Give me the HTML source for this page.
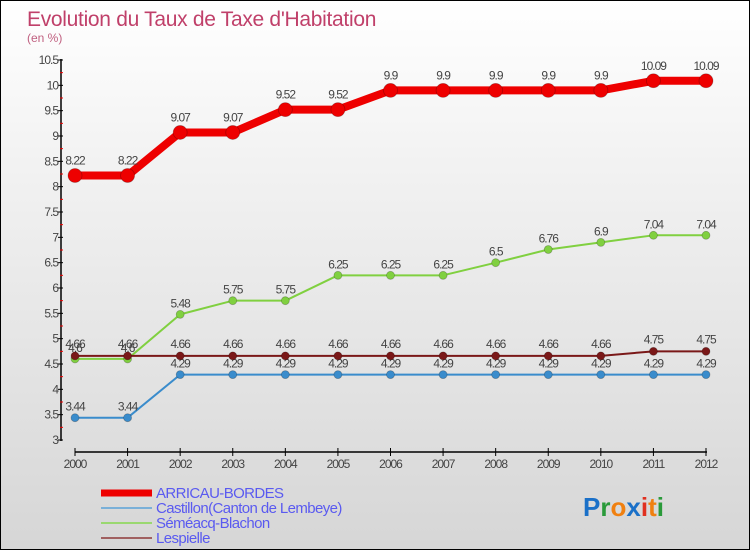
<!DOCTYPE html>
<html><head><meta charset="utf-8"><style>
body{margin:0}
#wrap{position:relative;width:748px;height:548px;border:1px solid #000;background:linear-gradient(#fff,#f2f2f2 30%,#d6d6d6);overflow:hidden;font-family:"Liberation Sans",sans-serif}
</style></head><body>
<div id="wrap">
<svg id="svg" width="748" height="548"></svg>
</div>
<script>
const years=["2000","2001","2002","2003","2004","2005","2006","2007","2008","2009","2010","2011","2012"];
const arricau=[8.22,8.22,9.07,9.07,9.52,9.52,9.9,9.9,9.9,9.9,9.9,10.09,10.09];
const castillon=[3.44,3.44,4.29,4.29,4.29,4.29,4.29,4.29,4.29,4.29,4.29,4.29,4.29];
const semeacq=[4.6,4.6,5.48,5.75,5.75,6.25,6.25,6.25,6.5,6.76,6.9,7.04,7.04];
const lespielle=[4.66,4.66,4.66,4.66,4.66,4.66,4.66,4.66,4.66,4.66,4.66,4.75,4.75];
const yTicks=["3","3.5","4","4.5","5","5.5","6","6.5","7","7.5","8","8.5","9","9.5","10","10.5"];
const NS="http://www.w3.org/2000/svg";
const svg=document.getElementById('svg');
const X=i=>74+i*(631/12);
const Y=v=>439-(v-3)*(380/7.5);
function el(t,a,txt){const e=document.createElementNS(NS,t);for(const k in a)e.setAttribute(k,a[k]);if(txt!==undefined)e.textContent=txt;svg.appendChild(e);return e;}
let e;
e=el('text',{x:26,y:25,'font-size':21,fill:'#c0406a','letter-spacing':'-0.3'},"Evolution du Taux de Taxe d'Habitation");


e=el('text',{x:26,y:41,'font-size':12,fill:'#c06080'},"(en %)");


e=el('line',{x1:60,y1:58,x2:60,y2:440,stroke:'#000','stroke-width':1.5});


e=el('line',{x1:74,y1:451,x2:706,y2:451,stroke:'#000','stroke-width':1.5});


yTicks.forEach((t,i)=>{const v=parseFloat(t),y=Y(v);
 e=el('line',{x1:57,y1:y,x2:62,y2:y,stroke:'#000'});
 
 
 e=el('text',{x:57,y:y+4,'font-size':12,fill:'#444','text-anchor':'end','letter-spacing':'-1'},t);
 
 
 if(i<yTicks.length-1){e=el('line',{x1:59,y1:Y(v+0.25),x2:62,y2:Y(v+0.25),stroke:'#e00'});
 
 }
});
years.forEach((t,i)=>{const x=X(i);
 e=el('line',{x1:x,y1:447,x2:x,y2:455,stroke:'#000'});
 
 
 e=el('text',{x:x,y:467,'font-size':12,fill:'#444','text-anchor':'middle','letter-spacing':'-1'},t);
 
 
});
function series(name,vals,color,w,r,labOff){
 const pts=vals.map((v,i)=>X(i)+','+Y(v)).join(' ');
 e=el('polyline',{points:pts,fill:'none',stroke:color,'stroke-width':w,'stroke-linejoin':'round'});
 
 
 vals.forEach((v,i)=>{
  e=el('circle',{cx:X(i),cy:Y(v),r:r,fill:color,stroke:'rgba(0,0,0,0.25)','stroke-width':0.8});
  
  
  e=el('text',{x:X(i),y:Y(v)-labOff,'font-size':12,fill:'#444','text-anchor':'middle','letter-spacing':'-1'},String(v));
  
  
 });
}
series('castillon',castillon,'#3a8ccc',2,4,7);
series('semeacq',semeacq,'#80d040',2,4,7);
series('lespielle',lespielle,'#7a1818',2,4,8);
series('arricau',arricau,'#ee0000',8,7,11);
const leg=[["ARRICAU-BORDES","#ee0000",7],["Castillon(Canton de Lembeye)","#7ab0d8",2],["Séméacq-Blachon","#9ad870",2],["Lespielle","#a06060",2]];
leg.forEach((l,i)=>{const y=492+i*15;
 e=el('line',{x1:100,y1:y,x2:151,y2:y,stroke:l[1],'stroke-width':l[2]});
 
 
 e=el('text',{x:155,y:y+5,'font-size':15,fill:'#5a5af0','letter-spacing':'-0.6'},l[0]);
 
 
});
const logo=[["P","#1a70c8"],["r","#2a9a3a"],["o","#f08010"],["x","#1a70c8"],["i","#e03020"],["t","#f08010"],["i","#2a9a3a"]];
const lt=el('text',{x:582,y:515,'font-size':26,'font-weight':'bold'});


logo.forEach(c=>{const s=document.createElementNS(NS,'tspan');s.setAttribute('fill',c[1]);s.textContent=c[0];lt.appendChild(s);});
</script>
</body></html>
